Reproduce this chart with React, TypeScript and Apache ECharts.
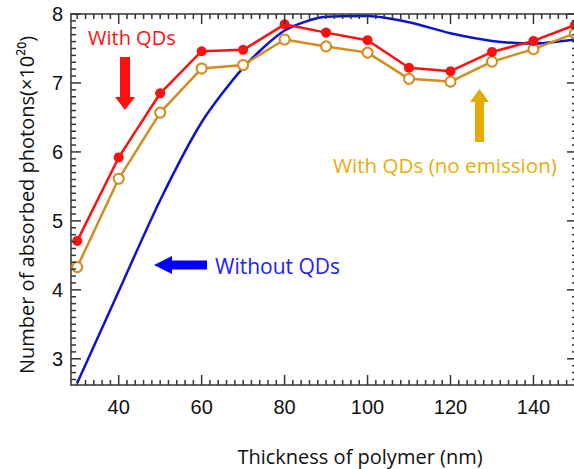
import React, { useEffect, useRef } from "react";
import * as echarts from "echarts";

const thickness = [30, 40, 50, 60, 70, 80, 90, 100, 110, 120, 130, 140, 150];
const withQDs = [4.71, 5.92, 6.85, 7.46, 7.48, 7.85, 7.73, 7.62, 7.22, 7.17, 7.45, 7.61, 7.84];
const withQDsNoEmission = [4.33, 5.61, 6.57, 7.21, 7.26, 7.63, 7.53, 7.44, 7.06, 7.02, 7.31, 7.49, 7.72];
const withoutQDs = [2.65, 3.98, 5.3, 6.43, 7.22, 7.76, 7.96, 7.97, 7.88, 7.72, 7.61, 7.57, 7.63];
const xMajorTicks = [40, 60, 80, 100, 120, 140];
const yMajorTicks = [3, 4, 5, 6, 7, 8];

const xMinorTicks: number[] = [];
for (let v = 30; v <= 150; v += 2) if (v % 20 !== 0) xMinorTicks.push(v);
const yMinorTicks: number[] = [];
for (let i = 27; i <= 80; i++) if (i % 10 !== 0) yMinorTicks.push(i / 10);

const X_MIN = 28.5;
const X_MAX = 150.5;
const Y_MIN = 2.62;
const Y_MAX = 8;

const CHART_W = 580;
const CHART_H = 469;

const RED = "#ff1010";
const ORANGE = "#d28d1e";
const ORANGE_TXT = "#e9ad0a";
const BLUE = "#0a14d2";
const BLUE_TXT = "#2020ff";
const AXIS = "#333333";
const TXT_FONT = "'Open Sans', 'Noto Sans', 'DejaVu Sans', sans-serif";
const NUM_FONT = "'Liberation Sans', Arial, sans-serif";

function xAx(position: string, showLabel: boolean) {
  return {
    type: "value",
    position,
    min: X_MIN,
    max: X_MAX,
    axisLine: { show: true, onZero: false, lineStyle: { color: AXIS, width: 1.5 } },
    axisTick: { show: false },
    axisLabel: {
      show: showLabel,
      customValues: xMajorTicks,
      fontSize: 20,
      fontFamily: NUM_FONT,
      color: "#111",
      margin: 12,
    },
    splitLine: { show: false },
  };
}

function yAx(position: string, showLabel: boolean) {
  return {
    type: "value",
    position,
    min: Y_MIN,
    max: Y_MAX,
    axisLine: { show: true, onZero: false, lineStyle: { color: AXIS, width: 1.5 } },
    axisTick: { show: false },
    axisLabel: {
      show: showLabel,
      customValues: yMajorTicks,
      fontSize: 20,
      fontFamily: NUM_FONT,
      color: "#111",
      margin: 8,
    },
    splitLine: { show: false },
  };
}

const annotations = [
  {
    type: "text",
    x: 88,
    y: 37,
    style: { text: "With QDs", fill: RED, fontSize: 20, fontFamily: TXT_FONT, align: "left", verticalAlign: "middle" },
  },
  {
    type: "polygon",
    shape: { points: [[120, 57], [130, 57], [130, 97], [135, 97], [125, 110], [115, 97], [120, 97]] },
    style: { fill: RED },
  },
  {
    type: "text",
    x: 215,
    y: 266,
    style: { text: "Without QDs", fill: BLUE_TXT, fontSize: 21, fontFamily: TXT_FONT, align: "left", verticalAlign: "middle" },
  },
  {
    type: "polygon",
    shape: { points: [[154, 265], [172, 256], [172, 260.5], [207, 260.5], [207, 269.5], [172, 269.5], [172, 274]] },
    style: { fill: "#0000ff" },
  },
  {
    type: "text",
    x: 333,
    y: 165,
    style: { text: "With QDs (no emission)", fill: ORANGE_TXT, fontSize: 20.6, fontFamily: TXT_FONT, align: "left", verticalAlign: "middle" },
  },
  {
    type: "polygon",
    shape: { points: [[479.5, 89], [489, 102], [484, 102], [484, 142], [475, 142], [475, 102], [470, 102]] },
    style: { fill: "#e6aa00" },
  },
  {
    type: "text",
    x: 360,
    y: 456,
    style: { text: "Thickness of polymer (nm)", fill: "#111", fontSize: 20, fontFamily: TXT_FONT, align: "center", verticalAlign: "middle" },
  },
  {
    type: "text",
    x: 26,
    y: 205,
    rotation: Math.PI / 2,
    style: {
      text: "Number of absorbed photons(×10²⁰)",
      fill: "#111",
      fontSize: 20,
      fontFamily: TXT_FONT,
      align: "center",
      verticalAlign: "middle",
    },
  },
];

export default function App() {
  const ref = useRef<HTMLDivElement>(null);
  useEffect(() => {
    if (!ref.current) return;
    const chart = echarts.init(ref.current, undefined, { renderer: "svg" });
    const option = {
      animation: false,
      backgroundColor: "#ffffff",
      grid: { left: 71, top: 14, right: 3, bottom: 84, containLabel: false },
      xAxis: [xAx("bottom", true), xAx("top", false)],
      yAxis: [yAx("left", true), yAx("right", false)],
      series: [
        {
          name: "Without QDs",
          type: "line",
          xAxisIndex: 0,
          yAxisIndex: 0,
          data: thickness.map((x, i) => [x, withoutQDs[i]]),
          smooth: 0.25,
          showSymbol: false,
          symbol: "none",
          lineStyle: { color: BLUE, width: 2.5 },
          z: 2,
        },
        {
          name: "With QDs (no emission)",
          type: "line",
          xAxisIndex: 0,
          yAxisIndex: 0,
          data: thickness.map((x, i) => [x, withQDsNoEmission[i]]),
          symbol: "emptyCircle",
          symbolSize: 10,
          lineStyle: { color: ORANGE, width: 2.5 },
          itemStyle: { color: ORANGE, borderWidth: 1.2 },
          z: 3,
        },
        {
          name: "With QDs",
          type: "line",
          xAxisIndex: 0,
          yAxisIndex: 0,
          data: thickness.map((x, i) => [x, withQDs[i]]),
          symbol: "circle",
          symbolSize: 10,
          lineStyle: { color: RED, width: 2.5 },
          itemStyle: { color: RED },
          z: 4,
        },
      ],
    };
    chart.setOption(option as any);

    // Inward tick marks, positioned with the chart's own axis scales
    const toPx = (x: number, y: number): number[] => {
      const p = chart.convertToPixel({ gridIndex: 0 } as any, [x, y]) as any;
      return Array.isArray(p) ? p : [NaN, NaN];
    };
    const ticks: any[] = [];
    const addX = (values: number[], len: number) =>
      values.forEach((v) => {
        const b = toPx(v, Y_MIN);
        const t = toPx(v, Y_MAX);
        ticks.push({ type: "rect", silent: true, z: 50, shape: { x: b[0] - 0.75, y: b[1] - len, width: 1.5, height: len }, style: { fill: AXIS } });
        ticks.push({ type: "rect", silent: true, z: 50, shape: { x: t[0] - 0.75, y: t[1], width: 1.5, height: len }, style: { fill: AXIS } });
      });
    const addY = (values: number[], len: number) =>
      values.forEach((v) => {
        const l = toPx(X_MIN, v);
        const r = toPx(X_MAX, v);
        ticks.push({ type: "rect", silent: true, z: 50, shape: { x: l[0], y: l[1] - 0.75, width: len, height: 1.5 }, style: { fill: AXIS } });
        ticks.push({ type: "rect", silent: true, z: 50, shape: { x: r[0] - len, y: r[1] - 0.75, width: len, height: 1.5 }, style: { fill: AXIS } });
      });
    addX(xMajorTicks, 10);
    addX(xMinorTicks, 5);
    addY(yMajorTicks, 10);
    addY(yMinorTicks, 5);

    chart.setOption({ graphic: [...annotations, ...ticks] } as any);
    return () => chart.dispose();
  }, []);
  return (
    <div
      ref={ref}
      style={{ position: "fixed", left: 0, top: 0, width: CHART_W, height: CHART_H, background: "#fff" }}
    />
  );
}
